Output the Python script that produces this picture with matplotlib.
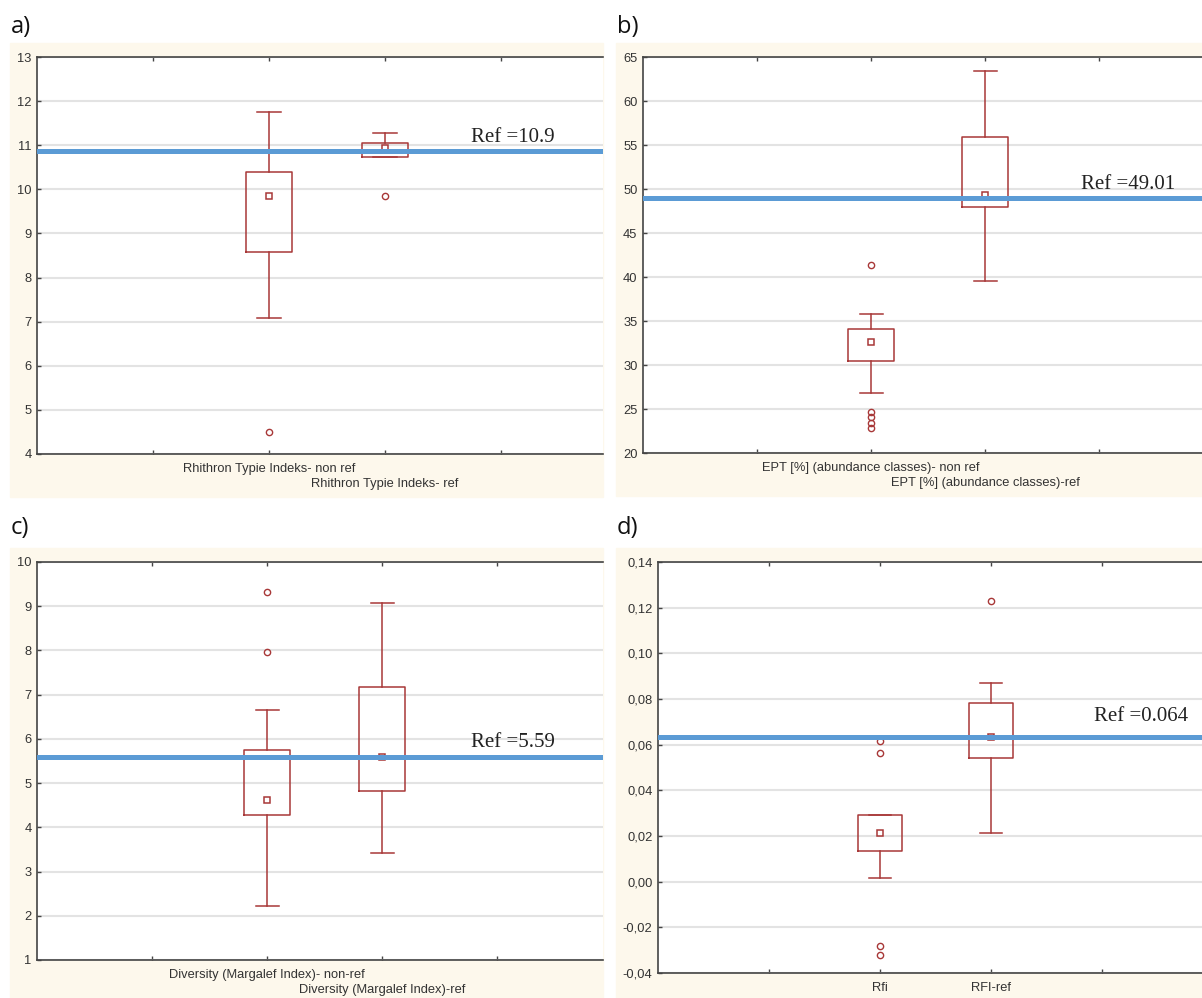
import matplotlib
matplotlib.use("Agg")
import matplotlib.pyplot as plt
from matplotlib.patches import Rectangle

# ---- data ----
a_labels = ["Rhithron Typie Indeks- non ref", "Rhithron Typie Indeks- ref"]
a_med = [9.84, 10.93]
a_q1 = [8.58, 10.73]
a_q3 = [10.39, 11.06]
a_lo = [7.09, 10.73]
a_hi = [11.76, 11.28]
a_out = [[4.49], [9.84]]
a_yticks = [4, 5, 6, 7, 8, 9, 10, 11, 12, 13]
a_yticklabels = ["4", "5", "6", "7", "8", "9", "10", "11", "12", "13"]

b_labels = ["EPT [%] (abundance classes)- non ref", "EPT [%] (abundance classes)-ref"]
b_med = [32.61, 49.28]
b_q1 = [30.49, 47.99]
b_q3 = [34.06, 55.87]
b_lo = [26.78, 39.55]
b_hi = [35.83, 63.37]
b_out = [[41.4, 24.62, 24.06, 23.44, 22.81], []]
b_yticks = [20, 25, 30, 35, 40, 45, 50, 55, 60, 65]
b_yticklabels = ["20", "25", "30", "35", "40", "45", "50", "55", "60", "65"]

c_labels = ["Diversity (Margalef Index)- non-ref", "Diversity (Margalef Index)-ref"]
c_med = [4.62, 5.59]
c_q1 = [4.28, 4.82]
c_q3 = [5.74, 7.17]
c_lo = [2.21, 3.42]
c_hi = [6.66, 9.08]
c_out = [[9.32, 7.97], []]
c_yticks = [1, 2, 3, 4, 5, 6, 7, 8, 9, 10]
c_yticklabels = ["1", "2", "3", "4", "5", "6", "7", "8", "9", "10"]

d_labels = ["Rfi", "RFI-ref"]
d_med = [0.0214, 0.0635]
d_q1 = [0.0136, 0.0543]
d_q3 = [0.0293, 0.0782]
d_lo = [0.0017, 0.0212]
d_hi = [0.0293, 0.087]
d_out = [[0.0615, 0.0563, -0.0282, -0.032], [0.123]]
d_yticks = [-0.04, -0.02, 0.0, 0.02, 0.04, 0.06, 0.08, 0.10, 0.12, 0.14]
d_yticklabels = ["-0,04", "-0,02", "0,00", "0,02", "0,04", "0,06", "0,08", "0,10", "0,12", "0,14"]

ref_lines = [10.86, 49.01, 5.59, 0.0635]
ref_texts = ["Ref =10.9", "Ref =49.01", "Ref =5.59", "Ref =0.064"]
panel_names = ["a)", "b)", "c)", "d)"]

W, H = 1202, 998
box_col = "#a83838"
cream = "#fdf8ec"
blue = "#5b9bd5"

fig = plt.figure(figsize=(W / 100, H / 100), dpi=100)


def frac(l, t, r, b):
    return [l / W, 1 - b / H, (r - l) / W, (b - t) / H]


# cream panels behind each chart
for l, t, r, b in [(10, 43, 603, 497), (616, 43, 1202, 496),
                   (10, 548, 603, 998), (616, 548, 1202, 998)]:
    fig.add_artist(Rectangle((l / W, 1 - b / H), (r - l) / W, (b - t) / H,
                             transform=fig.transFigure, color=cream, zorder=-5))

# last item: is the second x label dropped a line lower (staggered)
panels = [
    (frac(37, 57, 603, 454), 4.88, a_labels, a_med, a_q1, a_q3, a_lo, a_hi, a_out,
     a_yticks, a_yticklabels, 3.74, 6.5, True),
    (frac(643, 57, 1202, 453), 4.90, b_labels, b_med, b_q1, b_q3, b_lo, b_hi, b_out,
     b_yticks, b_yticklabels, 3.84, 6, True),
    (frac(37, 562, 603, 960), 4.92, c_labels, c_med, c_q1, c_q3, c_lo, c_hi, c_out,
     c_yticks, c_yticklabels, 3.77, 7, True),
    (frac(658, 562, 1202, 973), 4.90, d_labels, d_med, d_q1, d_q3, d_lo, d_hi, d_out,
     d_yticks, d_yticklabels, 3.93, 11, False),
]

for i, (rect, xmax, labels, med, q1, q3, lo, hi, out, yt, ytl, tx, toff, stagger) in enumerate(panels):
    ax = fig.add_axes(rect)
    ax.set_facecolor("white")
    stats = []
    for j in range(2):
        stats.append(dict(med=med[j], q1=q1[j], q3=q3[j], whislo=lo[j],
                          whishi=hi[j], fliers=out[j]))
    lp = dict(color=box_col, linewidth=1.1)
    ax.bxp(stats, positions=[2, 3], widths=0.4, capwidths=0.2,
           boxprops=lp, whiskerprops=lp, capprops=lp,
           medianprops=dict(visible=False),
           flierprops=dict(marker="o", markersize=4.5, markerfacecolor="none",
                           markeredgecolor=box_col, markeredgewidth=1.0),
           manage_ticks=False, zorder=3)
    ax.plot([2, 3], med, linestyle="none", marker="s", markersize=5,
            markerfacecolor="white", markeredgecolor=box_col,
            markeredgewidth=1.1, zorder=4)

    ax.axhline(ref_lines[i], color=blue, linewidth=3.6, zorder=5)
    ax.annotate(ref_texts[i], xy=(tx, ref_lines[i]), xytext=(0, toff),
                textcoords="offset points", va="baseline", ha="left",
                fontsize=15, family="Liberation Serif", color="#222222")

    ax.set_xlim(0, xmax)
    ax.set_ylim(yt[0], yt[-1])
    ax.set_yticks(yt)
    ax.set_yticklabels(ytl)
    ax.set_xticks([1, 2, 3, 4])
    ax.set_xticklabels(["", labels[0], labels[1], ""])
    ax.yaxis.grid(True, color="#e3e3e3", linewidth=1.5, zorder=0)
    ax.set_axisbelow(True)
    ax.tick_params(axis="both", direction="in", length=3, width=1,
                   color="#444444", labelsize=9.3, labelcolor="#333333",
                   top=True, pad=4)
    ax.tick_params(axis="x", pad=6.5)
    if stagger:
        ax.xaxis.get_major_ticks()[2].set_pad(17)
    for lab in ax.get_xticklabels() + ax.get_yticklabels():
        lab.set_family("Liberation Sans")
    ax.spines["right"].set_visible(False)
    for s in ["left", "top", "bottom"]:
        ax.spines[s].set_color("#444444")
        ax.spines[s].set_linewidth(1.2)

# panel letters
for name, (x, y) in zip(panel_names, [(11, 27), (617, 27), (11, 528), (617, 528)]):
    fig.text(x / W, 1 - y / H, name, fontsize=17, family="Open Sans",
             va="center", ha="left", color="#111111")

fig.savefig("out.png", dpi=100)
